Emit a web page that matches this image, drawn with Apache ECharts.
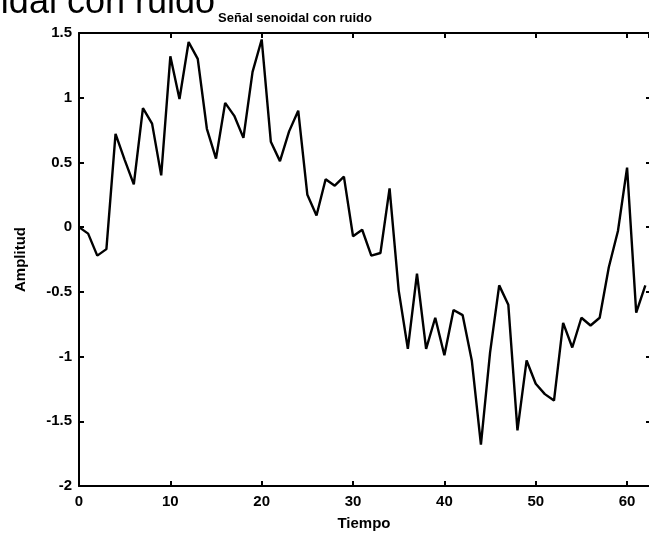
<!DOCTYPE html>
<html>
<head>
<meta charset="utf-8">
<script src="https://cdn.jsdelivr.net/npm/echarts@6/dist/echarts.min.js"></script>
<style>
html,body{margin:0;padding:0;background:#fff;}
#c{width:649px;height:536px;}
</style>
</head>
<body>
<div id="c"></div>
<script>
// Amplitude samples at Tiempo = 0,1,2,...,62
var amplitud = [
  0.00, -0.05, -0.22, -0.17, 0.72, 0.52, 0.33, 0.92, 0.80, 0.40,
  1.32, 0.99, 1.43, 1.30, 0.76, 0.53, 0.96, 0.86, 0.69, 1.20,
  1.45, 0.66, 0.51, 0.74, 0.90, 0.25, 0.09, 0.37, 0.32, 0.39,
  -0.07, -0.02, -0.22, -0.20, 0.30, -0.49, -0.94, -0.36, -0.94, -0.70,
  -0.99, -0.64, -0.68, -1.03, -1.68, -0.97, -0.45, -0.60, -1.57, -1.03,
  -1.21, -1.29, -1.34, -0.74, -0.93, -0.70, -0.76, -0.70, -0.31, -0.03,
  0.46, -0.66, -0.45
];
var tiempo = amplitud.map(function (v, i) { return i; });
var xTicks = [0, 10, 20, 30, 40, 50, 60];
var yTicks = [-2, -1.5, -1, -0.5, 0, 0.5, 1, 1.5];
var titulo = 'Señal senoidal con ruido';
var xNombre = 'Tiempo';
var yNombre = 'Amplitud';

var pts = tiempo.map(function (t, i) { return [t, amplitud[i]]; });
var FONT = 'Liberation Sans, Arial, sans-serif';
var lineStyle = { color: '#000', width: 2 };

var chart = echarts.init(document.getElementById('c'));
chart.setOption({
  backgroundColor: '#fff',
  animation: false,
  graphic: [
    { type: 'text', x: 215, y: 3,
      style: { text: titulo, font: '36px ' + FONT, fill: '#000', textAlign: 'right', textVerticalAlign: 'middle' } }
  ],
  title: {
    text: titulo, left: 290, top: 7, textAlign: 'center',
    textStyle: { fontFamily: FONT, fontSize: 13, fontWeight: 'bold', color: '#000' }
  },
  grid: { left: 79, top: 33, right: 0, height: 456 },
  xAxis: [{
    type: 'value', position: 'bottom', min: xTicks[0], max: 62.4, interval: 10,
    name: xNombre, nameLocation: 'middle', nameGap: 30,
    nameTextStyle: { fontFamily: FONT, fontSize: 15, fontWeight: 'bold', color: '#000' },
    axisLine: { show: true, onZero: false, lineStyle: lineStyle },
    axisTick: { show: true, inside: true, length: 5, lineStyle: lineStyle },
    axisLabel: { color: '#000', fontFamily: FONT, fontSize: 15, fontWeight: 'bold', margin: 8, showMaxLabel: false },
    splitLine: { show: false }
  }, {
    type: 'value', position: 'top', min: xTicks[0], max: 62.4, interval: 10,
    axisLine: { show: true, onZero: false, lineStyle: lineStyle },
    axisTick: { show: true, inside: true, length: 5, lineStyle: lineStyle },
    axisLabel: { show: false }, splitLine: { show: false }
  }],
  yAxis: [{
    type: 'value', position: 'left', min: yTicks[0], max: yTicks[yTicks.length - 1], interval: 0.5,
    name: yNombre, nameLocation: 'middle', nameGap: 51,
    nameTextStyle: { fontFamily: FONT, fontSize: 15, fontWeight: 'bold', color: '#000' },
    axisLine: { show: true, onZero: false, lineStyle: lineStyle },
    axisTick: { show: true, inside: true, length: 5, lineStyle: lineStyle },
    axisLabel: { color: '#000', fontFamily: FONT, fontSize: 15, fontWeight: 'bold', margin: 7 },
    splitLine: { show: false }
  }, {
    type: 'value', position: 'right', min: yTicks[0], max: yTicks[yTicks.length - 1], interval: 0.5,
    axisLine: { show: false, onZero: false, lineStyle: lineStyle },
    axisTick: { show: true, inside: true, length: 3, lineStyle: lineStyle },
    axisLabel: { show: false }, splitLine: { show: false }
  }],
  series: [{
    type: 'line', xAxisIndex: 0, yAxisIndex: 0, data: pts,
    showSymbol: false, symbol: 'none', smooth: false,
    lineStyle: { color: '#000', width: 2.4 }, clip: true
  }]
});
</script>
</body>
</html>
